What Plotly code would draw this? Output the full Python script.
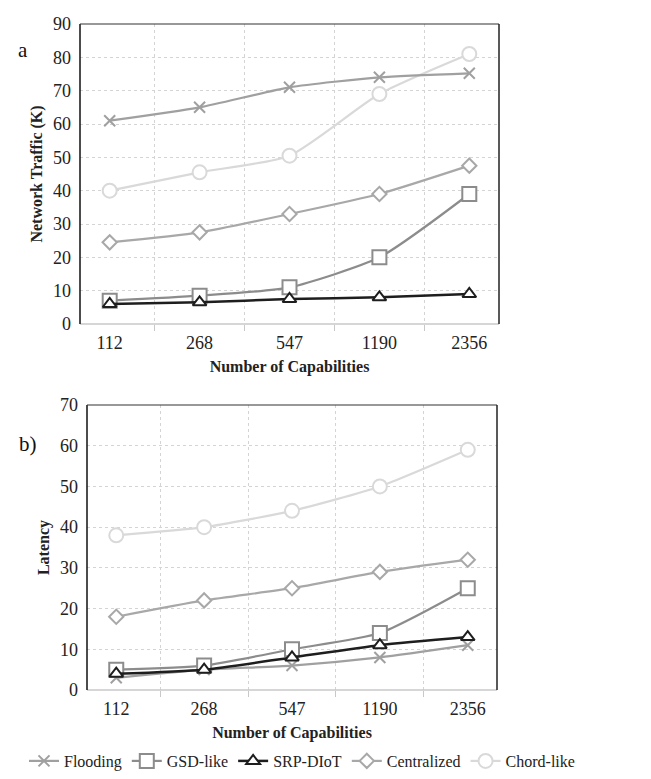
import plotly.graph_objects as go

categories = ["112", "268", "547", "1190", "2356"]
series_names = ["Flooding", "GSD-like", "SRP-DIoT", "Centralized", "Chord-like"]

traffic_flooding = [61, 65, 71, 74, 75.2]
traffic_gsd = [7, 8.5, 11, 20, 39]
traffic_srp = [6, 6.5, 7.5, 8, 9]
traffic_central = [24.5, 27.5, 33, 39, 47.5]
traffic_chord = [40, 45.5, 50.5, 69, 81]

latency_flooding = [3, 5, 6, 8, 11]
latency_gsd = [5, 6, 10, 14, 25]
latency_srp = [4, 5, 8, 11, 13]
latency_central = [18, 22, 25, 29, 32]
latency_chord = [38, 40, 44, 50, 59]

styles = {
    "Flooding": dict(color="#a0a0a0", symbol="x-thin-open", size=11, lw=2.2, fill="#a0a0a0"),
    "GSD-like": dict(color="#8c8c8c", symbol="square", size=14, lw=2.2, fill="white"),
    "SRP-DIoT": dict(color="#1e1e1e", symbol="triangle-up", size=12, lw=2.5, fill="white"),
    "Centralized": dict(color="#a8a8a8", symbol="diamond", size=11, lw=2.2, fill="white"),
    "Chord-like": dict(color="#d9d9d9", symbol="circle", size=14, lw=2.2, fill="white"),
}
rank = {"Flooding": 1, "GSD-like": 2, "SRP-DIoT": 3, "Centralized": 4, "Chord-like": 5}

FONT = "Liberation Serif"
fig = go.Figure()

def add(name, ys, xa, ya, show):
    s = styles[name]
    fig.add_trace(go.Scatter(
        x=categories, y=ys, name=name, mode="lines+markers",
        xaxis=xa, yaxis=ya, showlegend=show, legendrank=rank[name],
        line=dict(color=s["color"], width=s["lw"], shape="spline", smoothing=0.6),
        marker=dict(symbol=s["symbol"], size=s["size"], color=s["fill"],
                    line=dict(color=s["color"], width=2)),
    ))

order = ["Chord-like", "Centralized", "Flooding", "GSD-like", "SRP-DIoT"]
top = dict(zip(series_names, [traffic_flooding, traffic_gsd, traffic_srp, traffic_central, traffic_chord]))
bot = dict(zip(series_names, [latency_flooding, latency_gsd, latency_srp, latency_central, latency_chord]))
for n in order:
    add(n, top[n], "x", "y", True)
for n in order:
    add(n, bot[n], "x2", "y2", False)

W, H = 651, 779
def dom(a, b, total):
    return [a / total, b / total]

xcommon = dict(type="category", tickson="boundaries", showgrid=True, gridcolor="#d4d4d4",
               griddash="dot", gridwidth=1, ticks="outside", ticklen=6, tickcolor="#c8c8c8",
               tickfont=dict(family=FONT, size=18, color="#222"), showline=False, zeroline=False,
               automargin=False, ticklabelstandoff=6,
               title=dict(text="<b>Number of Capabilities</b>", font=dict(family=FONT, size=16, color="#222"), standoff=8))
ycommon = dict(showgrid=True, gridcolor="#d4d4d4", griddash="dot", gridwidth=1, zeroline=False,
               tickfont=dict(family=FONT, size=18, color="#222"), ticks="", showline=False,
               automargin=False, ticklabelstandoff=8)

fig.update_layout(
    width=W, height=H, margin=dict(l=0, r=0, t=0, b=0, autoexpand=False),
    plot_bgcolor="white", paper_bgcolor="white",
    xaxis=dict(domain=dom(72, 491, W), anchor="y", **xcommon),
    yaxis=dict(domain=[1 - 316 / H, 1 - 16 / H], range=[0, 90], dtick=10, anchor="x",
               title=dict(text="<b>Network Traffic (K)</b>", font=dict(family=FONT, size=16, color="#222"), standoff=6),
               **ycommon),
    xaxis2=dict(domain=dom(79, 489, W), anchor="y2", **xcommon),
    yaxis2=dict(domain=[1 - 682 / H, 1 - 397 / H], range=[0, 70], dtick=10, anchor="x2",
                title=dict(text="<b>Latency</b>", font=dict(family=FONT, size=16, color="#222"), standoff=6),
                **ycommon),
    legend=dict(orientation="h", x=16 / W, xanchor="left", y=1 - 736 / H, yanchor="top",
                font=dict(family=FONT, size=16, color="#222"), itemwidth=30, tracegroupgap=0,
                traceorder="normal"),
    annotations=[
        dict(text="a", x=15 / W, y=1 - 42 / H, xref="paper", yref="paper", showarrow=False,
             font=dict(family=FONT, size=21, color="#111"), xanchor="center", yanchor="middle"),
        dict(text="b)", x=20 / W, y=1 - 436 / H, xref="paper", yref="paper", showarrow=False,
             font=dict(family=FONT, size=21, color="#111"), xanchor="center", yanchor="middle"),
    ],
)

shapes = []
for xr, yr in (("x", "y"), ("x2", "y2")):
    xd, yd = xr + " domain", yr + " domain"
    shapes.append(dict(type="line", xref=xd, yref=yd, x0=0, x1=1, y0=0, y1=0, line=dict(color="#c8c8c8", width=1.5)))
    shapes.append(dict(type="line", xref=xd, yref=yd, x0=0, x1=0, y0=0, y1=1, line=dict(color="#111", width=1.5)))
    shapes.append(dict(type="line", xref=xd, yref=yd, x0=0, x1=1, y0=1, y1=1, line=dict(color="#333", width=1.2)))
    shapes.append(dict(type="line", xref=xd, yref=yd, x0=1, x1=1, y0=0, y1=1, line=dict(color="#222", width=1.5)))
fig.update_layout(shapes=shapes)

fig.write_html("out.html")
